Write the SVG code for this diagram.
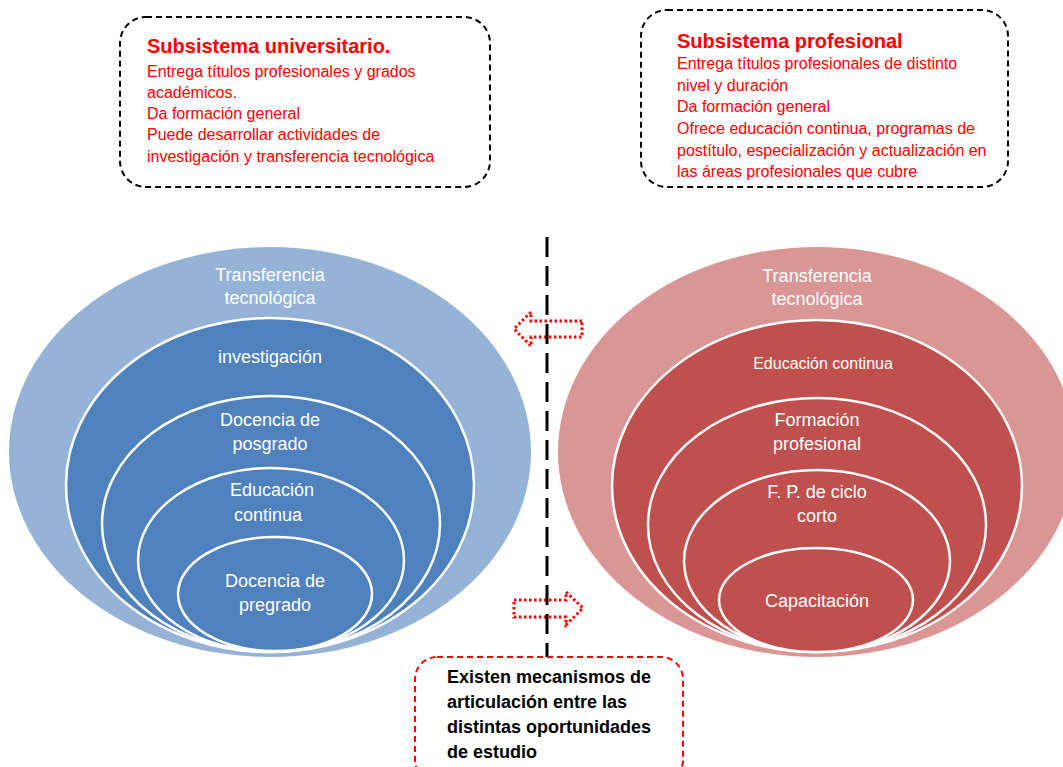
<svg xmlns="http://www.w3.org/2000/svg" width="1063" height="767" viewBox="0 0 1063 767">
<style>
.box{fill:#fff;stroke:#000;stroke-width:2;stroke-dasharray:6 4}
.rbox{fill:#fff;stroke:#f00;stroke-width:2;stroke-dasharray:6 4}
.ttl{font-family:"Liberation Sans",Arial,sans-serif;font-weight:bold;font-size:20px;fill:#f00}
.red{font-family:"Liberation Sans",Arial,sans-serif;font-size:16px;fill:#f00}
.blk{font-family:"Liberation Sans",Arial,sans-serif;font-weight:bold;font-size:18px;fill:#000}
.bo{fill:#95B3D7}
.bi{fill:#4F81BD;stroke:#fff;stroke-width:2.5}
.ro{fill:#D99694}
.ri{fill:#C0504D;stroke:#fff;stroke-width:2.5}
.w{font-family:"Liberation Sans",Arial,sans-serif;font-size:18px;fill:#fff;text-anchor:middle}
.ws{font-family:"Liberation Sans",Arial,sans-serif;font-size:16px;fill:#fff;text-anchor:middle}
.arr{fill:none;stroke:#f00;stroke-width:3;stroke-dasharray:2.5 2.5}
</style>
<rect width="1063" height="767" fill="#fff"/>
<g id="box-universitario">
<rect class="box" x="120" y="17" width="370" height="170" rx="26"/>
<text class="ttl" x="147" y="53">Subsistema universitario.</text>
<text class="red" x="147" y="77">Entrega títulos profesionales y grados</text>
<text class="red" x="147" y="98">académicos.</text>
<text class="red" x="147" y="119">Da formación general</text>
<text class="red" x="147" y="140">Puede desarrollar actividades de</text>
<text class="red" x="147" y="162">investigación y transferencia tecnológica</text>
</g>
<g id="box-profesional">
<rect class="box" x="641" y="10" width="367" height="177" rx="26"/>
<text class="ttl" x="677" y="48">Subsistema profesional</text>
<text class="red" x="677" y="69">Entrega títulos profesionales de distinto</text>
<text class="red" x="677" y="91">nivel y duración</text>
<text class="red" x="677" y="112">Da formación general</text>
<text class="red" x="677" y="134">Ofrece educación continua, programas de</text>
<text class="red" x="677" y="156">postítulo, especialización y actualización en</text>
<text class="red" x="677" y="177">las áreas profesionales que cubre</text>
</g>
<g id="univ-transferencia">
<ellipse class="bo" cx="270" cy="452" rx="261" ry="205"/>
<text class="w" x="270" y="281">Transferencia</text>
<text class="w" x="270" y="304">tecnológica</text>
</g>
<g id="univ-investigacion">
<ellipse class="bi" cx="270" cy="485" rx="204" ry="167"/>
<text class="w" x="270" y="363">investigación</text>
</g>
<g id="univ-posgrado">
<ellipse class="bi" cx="271" cy="524" rx="169" ry="128"/>
<text class="w" x="270" y="426">Docencia de</text>
<text class="w" x="270" y="450">posgrado</text>
</g>
<g id="univ-continua">
<ellipse class="bi" cx="271" cy="560" rx="133" ry="92"/>
<text class="w" x="272" y="496">Educación</text>
<text class="w" x="268" y="521">continua</text>
</g>
<g id="univ-pregrado">
<ellipse class="bi" cx="275" cy="594" rx="97" ry="57"/>
<text class="w" x="275" y="587">Docencia de</text>
<text class="w" x="275" y="611">pregrado</text>
</g>
<g id="prof-transferencia">
<ellipse class="ro" cx="817" cy="452" rx="259" ry="205"/>
<text class="w" x="817" y="282">Transferencia</text>
<text class="w" x="817" y="305">tecnológica</text>
</g>
<g id="prof-continua">
<ellipse class="ri" cx="817" cy="486" rx="205" ry="166"/>
<text class="ws" x="823" y="369">Educación continua</text>
</g>
<g id="prof-formacion">
<ellipse class="ri" cx="817" cy="525" rx="169" ry="127"/>
<text class="w" x="817" y="426">Formación</text>
<text class="w" x="817" y="450">profesional</text>
</g>
<g id="prof-ciclo-corto">
<ellipse class="ri" cx="817" cy="561" rx="133" ry="91"/>
<text class="w" x="817" y="498">F. P. de ciclo</text>
<text class="w" x="817" y="522">corto</text>
</g>
<g id="prof-capacitacion">
<ellipse class="ri" cx="816" cy="600" rx="97" ry="52"/>
<text class="w" x="817" y="607">Capacitación</text>
</g>
<g id="connectors">
<path class="arr" d="M582 321 L531 321 L531 312 L514 329 L531 346 L531 337 L582 337 Z"/>
<path class="arr" d="M514 600 L566 600 L566 592 L583 608 L566 625 L566 617 L514 617 Z"/>
<line x1="547" y1="237" x2="547" y2="657" stroke="#000" stroke-width="3" stroke-dasharray="20 9"/>
</g>
<g id="box-articulacion">
<rect class="rbox" x="415" y="657" width="268" height="125" rx="22"/>
<text class="blk" x="447" y="683">Existen mecanismos de</text>
<text class="blk" x="447" y="708">articulación  entre las</text>
<text class="blk" x="447" y="733">distintas oportunidades</text>
<text class="blk" x="447" y="758">de estudio</text>
</g>
</svg>
